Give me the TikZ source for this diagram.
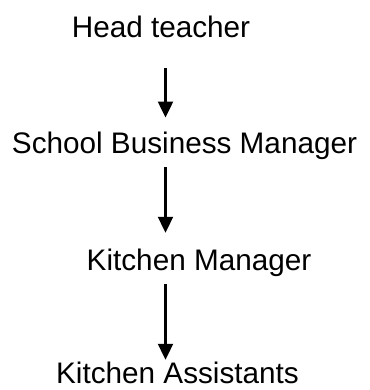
\documentclass[tikz,border=0pt]{standalone}
\usepackage{fontspec}
\setmainfont{Liberation Sans}
\usetikzlibrary{arrows.meta}
\begin{document}
\begin{tikzpicture}[x=1pt,y=1pt,
  lbl/.style={inner sep=0pt,anchor=base,font=\fontsize{29.7}{34}\selectfont},
  arr/.style={line width=2.2pt,-{Triangle[length=16pt,width=15pt]}}]
\useasboundingbox (0,0) rectangle (369,390);
\coordinate (ax) at (165.5,0);
\node[lbl] (head) at (161,352) {Head teacher};
\node[lbl] (sbm) at (184.5,236) {School Business Manager};
\node[lbl] (km) at (199,119) {Kitchen Manager};
\node[lbl] (ka) at (177.5,6) {Kitchen Assistants};
\draw[arr,shorten <=30pt,shorten >=14.7pt] (head.south -| ax) -- (sbm.north -| ax);
\draw[arr,shorten <=6.8pt,shorten >=16.5pt] (sbm.south -| ax) -- (km.north -| ax);
\draw[arr,shorten <=6.8pt,shorten >=2.5pt] (km.south -| ax) -- (ka.north -| ax);
\end{tikzpicture}
\end{document}
